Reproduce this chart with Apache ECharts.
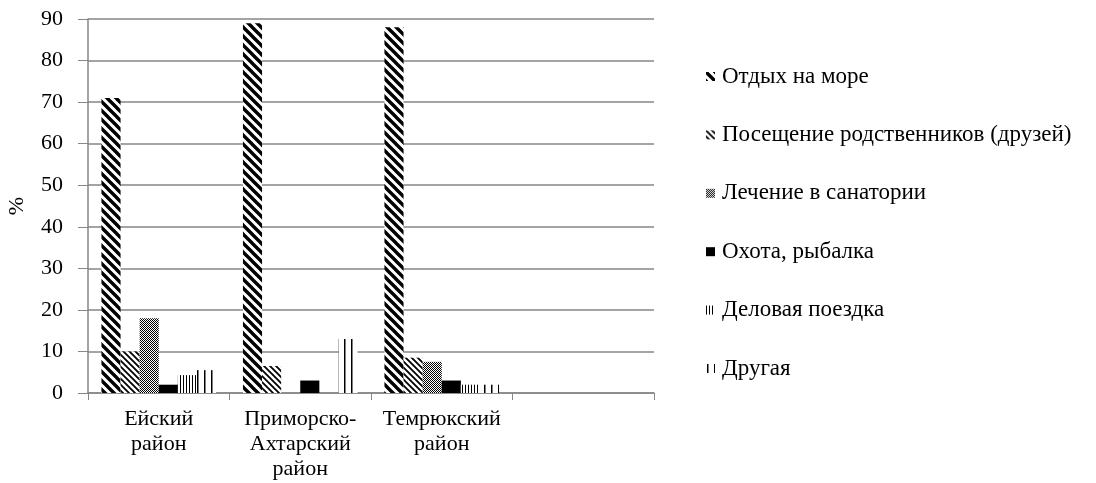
<!DOCTYPE html>
<html>
<head>
<meta charset="utf-8">
<script src="https://cdn.jsdelivr.net/npm/echarts@6/dist/echarts.min.js"></script>
<style>
html,body{margin:0;padding:0;background:#fff;}
#chart{width:1096px;height:483px;}
</style>
</head>
<body>
<div id="chart"></div>
<script>
// data
var categories = ['Ейский\nрайон', 'Приморско-\nАхтарский\nрайон', 'Темрюкский\nрайон', ''];
var seriesNames = ['Отдых на море', 'Посещение родственников (друзей)', 'Лечение в санатории',
    'Охота, рыбалка', 'Деловая поездка', 'Другая'];
var otdyh = [71, 89, 88, null];
var poseshchenie = [10, 6.5, 8.5, null];
var lechenie = [18, 0, 7.5, null];
var ohota = [2, 3, 3, null];
var delovaya = [4.3, 0, 2, null];
var drugaya = [5.5, 13, 2, null];
var yTicks = [0, 10, 20, 30, 40, 50, 60, 70, 80, 90];

var FONT = '"Liberation Serif", "DejaVu Serif", serif';

// small canvas tiles for the black & white fills
function tile(w, h, draw) {
    var c = document.createElement('canvas');
    c.width = w; c.height = h;
    var ctx = c.getContext('2d');
    ctx.fillStyle = '#fff';
    ctx.fillRect(0, 0, w, h);
    draw(ctx, w, h);
    return { image: c, repeat: 'repeat' };
}
function diag(n, lw) {
    return tile(n, n, function (ctx, w, h) {
        ctx.strokeStyle = '#000';
        ctx.lineWidth = lw;
        ctx.beginPath();
        for (var k = -1; k <= 1; k++) {
            ctx.moveTo(k * n - 1, -1);
            ctx.lineTo(k * n + n + 1, n + 1);
        }
        ctx.stroke();
    });
}
var fills = [
    diag(9, 3.4),
    diag(6, 1.8),
    tile(2, 2, function (ctx) {
        ctx.fillStyle = '#000';
        ctx.fillRect(0, 0, 1, 1);
        ctx.fillRect(1, 1, 1, 1);
    }),
    '#000',
    tile(3, 4, function (ctx, w, h) {
        ctx.fillStyle = '#000';
        ctx.fillRect(0, 0, 1, h);
    }),
    tile(7, 4, function (ctx, w, h) {
        ctx.fillStyle = '#000';
        ctx.fillRect(1, 0, 1.5, h);
    })
];
var values = [otdyh, poseshchenie, lechenie, ohota, delovaya, drugaya];

var series = seriesNames.map(function (name, i) {
    return {
        name: name,
        type: 'bar',
        data: values[i],
        barGap: '0%',
        barCategoryGap: '19%',
        itemStyle: { color: fills[i] },
        emphasis: { disabled: true }
    };
});

var chart = echarts.init(document.getElementById('chart'));
chart.setOption({
    backgroundColor: '#fff',
    animation: false,
    grid: { left: 88, right: 442, top: 19, bottom: 90, containLabel: false, outerBoundsMode: 'none' },
    legend: {
        orient: 'vertical',
        left: 701,
        top: 60,
        itemWidth: 9,
        itemHeight: 9,
        itemGap: 35.4,
        icon: 'rect',
        data: seriesNames,
        textStyle: { fontFamily: FONT, fontSize: 23, color: '#000', lineHeight: 23, padding: [0, 0, 0, 2] }
    },
    xAxis: {
        type: 'category',
        data: categories,
        axisLine: { lineStyle: { color: '#868686', width: 1.5 } },
        axisTick: { show: true, length: 7, lineStyle: { color: '#868686' } },
        axisLabel: { fontFamily: FONT, fontSize: 22, color: '#000', lineHeight: 25, margin: 14, interval: 0 }
    },
    yAxis: {
        type: 'value',
        min: 0,
        max: 90,
        interval: 10,
        name: '%',
        nameLocation: 'middle',
        nameRotate: 90,
        nameGap: 60,
        nameTextStyle: { fontFamily: FONT, fontSize: 22, color: '#000' },
        axisLine: { show: true, lineStyle: { color: '#868686', width: 1.5 } },
        axisTick: { show: true, length: 10, lineStyle: { color: '#868686' } },
        splitLine: { lineStyle: { color: '#868686', width: 1.5 } },
        axisLabel: {
            fontFamily: FONT, fontSize: 22, color: '#000', margin: 25,
            formatter: function (v) { return yTicks.indexOf(v) >= 0 ? String(v) : ''; }
        }
    },
    series: series
});
</script>
</body>
</html>
